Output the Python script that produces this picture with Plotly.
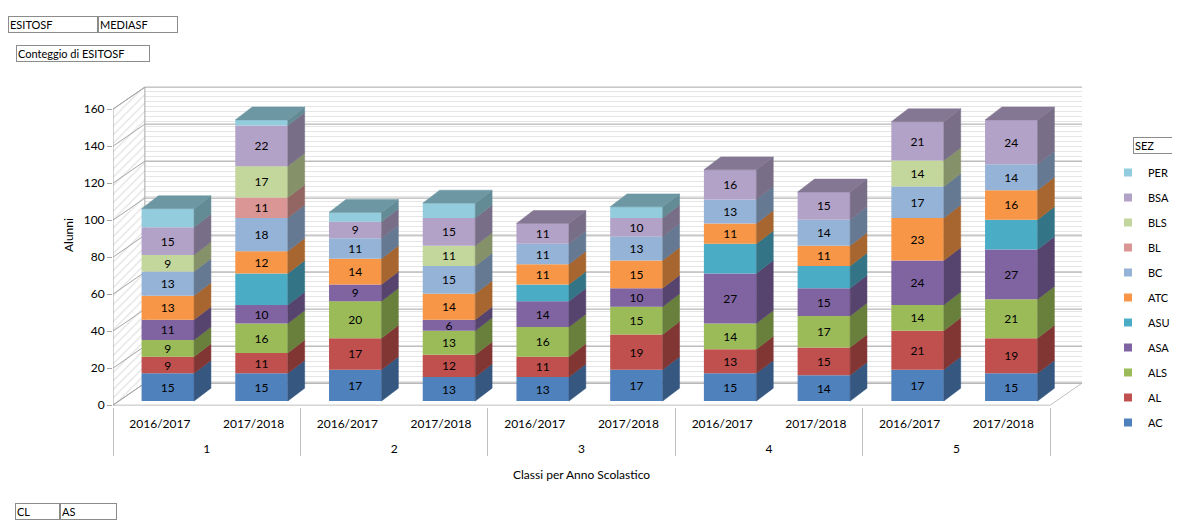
import numpy as np
import plotly.graph_objects as go

# classi (livello esterno) e anni scolastici (livello interno)
classi = ["1", "1", "2", "2", "3", "3", "4", "4", "5", "5"]
anni = ["2016/2017", "2017/2018"] * 5

sezioni = ["AC", "AL", "ALS", "ASA", "ASU", "ATC", "BC", "BL", "BLS", "BSA", "PER"]
AC = [15, 15, 17, 13, 13, 17, 15, 14, 17, 15]
AL = [9, 11, 17, 12, 11, 19, 13, 15, 21, 19]
ALS = [9, 16, 20, 13, 16, 15, 14, 17, 14, 21]
ASA = [11, 10, 9, 6, 14, 10, 27, 15, 24, 27]
ASU = [0, 17, 0, 0, 9, 0, 16, 12, 0, 16]
ATC = [13, 12, 14, 14, 11, 15, 11, 11, 23, 16]
BC = [13, 18, 11, 15, 11, 13, 13, 14, 17, 14]
BL = [0, 11, 0, 0, 0, 0, 0, 0, 0, 0]
BLS = [9, 17, 0, 11, 0, 0, 0, 0, 14, 0]
BSA = [15, 22, 9, 15, 11, 10, 16, 15, 21, 24]
PER = [10, 3, 5, 8, 0, 6, 0, 0, 0, 0]

y_ticks = [0, 20, 40, 60, 80, 100, 120, 140, 160]

valori = [AC, AL, ALS, ASA, ASU, ATC, BC, BL, BLS, BSA, PER]
colori = ['#4F81BD', '#C0504D', '#9BBB59', '#8064A2', '#4BACC6', '#F79646',
          '#95B3D7', '#D99694', '#C3D69B', '#B3A2C7', '#93CDDD']
senza_etichetta = {"ASU", "PER"}

# la pagina ha un margine di 8px: coordinate schermo -> figura
OFF = 8
W, H = 1180 - OFF, 525 - OFF
PX0, PX1, PY0, PY1 = 113, 1083, 84, 407   # area del grafico (schermo)
L, R, T, B = PX0 - OFF, W - (PX1 - OFF), PY0 - OFF, H - (PY1 - OFF)
XR = [-0.5, 9.85]
YR = [-1.0, 173.6]
DX, DY = 0.34, 11.9       # profondita' pareti
CDX, CDY = 0.18, 7.0      # profondita' colonne
BAR_W = 0.56
SHIFT = 0.085
BASE0 = 2.2
FONT = "Lato, 'Open Sans', sans-serif"


def px_x(p):
    return (p - PX0) / (PX1 - PX0)


def px_y(p):
    return (PY1 - p) / (PY1 - PY0)


def scurisci(hexcol, f):
    h = hexcol.lstrip('#')
    r, g, b = (int(h[i:i + 2], 16) for i in (0, 2, 4))
    return 'rgb(%d,%d,%d)' % (r * f, g * f, b * f)


n = len(classi)
xpos = np.arange(n) + SHIFT
fig = go.Figure()

# pareti e pavimento (sottografico di base, disegnato per primo)
x0, x1 = XR[0], n - 0.5
fig.add_trace(go.Scatter(
    x=[x0 + DX, x1 + DX, x1 + DX, x0 + DX, x0 + DX],
    y=[DY, DY, y_ticks[-1] + DY, y_ticks[-1] + DY, DY],
    fill='toself', mode='lines', line=dict(color='rgba(0,0,0,0)', width=0),
    fillcolor='white',
    fillpattern=dict(shape='-', size=5, solidity=0.2, fgcolor='#cccccc', bgcolor='white'),
    showlegend=False, hoverinfo='skip'))
fig.add_trace(go.Scatter(
    x=[x0, x0 + DX, x0 + DX, x0, x0],
    y=[0, DY, y_ticks[-1] + DY, y_ticks[-1], 0],
    fill='toself', mode='lines', line=dict(color='#a6a6a6', width=1),
    fillcolor='white',
    fillpattern=dict(shape='/', size=6, solidity=0.2, fgcolor='#c4c4c4', bgcolor='white'),
    showlegend=False, hoverinfo='skip'))
fig.add_trace(go.Scatter(
    x=[x0, x1, x1 + DX, x0 + DX, x0],
    y=[0, 0, DY, DY, 0],
    fill='toself', mode='lines', line=dict(color='#bfbfbf', width=1),
    fillcolor='white', showlegend=False, hoverinfo='skip'))

gx, gy = [], []
for v in y_ticks:
    gx += [x0, x0 + DX, x1 + DX, None]
    gy += [v, v + DY, v + DY, None]
fig.add_trace(go.Scatter(x=gx, y=gy, mode='lines', line=dict(color='#a6a6a6', width=1),
                         showlegend=False, hoverinfo='skip'))

# asse multicategoria (solo per le etichette)
fig.add_trace(go.Scatter(x=[["<br>" + c for c in classi], anni], y=[0] * n, mode='markers',
                         marker=dict(opacity=0), xaxis='x2',
                         showlegend=False, hoverinfo='skip'))

base = np.full(n, BASE0)
for k, (sez, vals, col) in enumerate(zip(sezioni, valori, colori)):
    vals = np.array(vals, dtype=float)
    testi = ['' if (v == 0 or sez in senza_etichetta) else str(int(v)) for v in vals]
    fig.add_trace(go.Bar(
        x=xpos, y=vals, base=base, width=BAR_W, name=sez, legendgroup=sez,
        showlegend=False,
        marker=dict(color=col, line=dict(width=0)),
        text=testi, textposition='inside', insidetextanchor='middle', textangle=0,
        textfont=dict(color='black', size=12, family=FONT),
        xaxis='x3', hovertemplate=sez + ': %{y}<extra></extra>'))
    # voce di legenda con quadratino piccolo
    fig.add_trace(go.Scatter(
        x=[None], y=[None], mode='markers', name=sez, legendgroup=sez,
        legendrank=100 - k, marker=dict(symbol='square', size=8, color=col),
        xaxis='x3', hoverinfo='skip'))
    sx, sy = [], []
    for i in range(n):
        if vals[i] == 0:
            continue
        xr = xpos[i] + BAR_W / 2
        b, t = base[i], base[i] + vals[i]
        sx += [xr, xr + CDX, xr + CDX, xr, xr, None]
        sy += [b, b + CDY, t + CDY, t, b, None]
    fig.add_trace(go.Scatter(x=sx, y=sy, fill='toself', mode='lines',
                             fillcolor=scurisci(col, 0.68),
                             line=dict(color=scurisci(col, 0.68), width=0.5),
                             xaxis='x3', showlegend=False, hoverinfo='skip'))
    base = base + vals

# facce superiori
mat = np.array(valori)
for i in range(n):
    top = max(k for k in range(len(sezioni)) if mat[k, i] > 0)
    xl, xr = xpos[i] - BAR_W / 2, xpos[i] + BAR_W / 2
    t = base[i]
    c = scurisci(colori[top], 0.74)
    fig.add_trace(go.Scatter(
        x=[xl, xl + CDX, xr + CDX, xr, xl], y=[t, t + CDY, t + CDY, t, t],
        fill='toself', mode='lines', fillcolor=c, line=dict(color=c, width=0.5),
        xaxis='x3', showlegend=False, hoverinfo='skip'))


def bottone(testo, x, y, w):
    return dict(text=testo, xref='paper', yref='paper', x=px_x(x), y=px_y(y),
                xanchor='left', yanchor='top', showarrow=False, align='left',
                bordercolor='#8c8c8c', borderwidth=1, borderpad=1, bgcolor='white',
                width=w, font=dict(size=11, color='black', family=FONT))


annotazioni = [
    bottone("ESITOSF", 8, 16, 86),
    bottone("MEDIASF", 98, 16, 76),
    bottone("Conteggio di ESITOSF", 16, 45, 130),
    bottone("CL", 15, 503, 41),
    bottone("AS", 60, 503, 53),
    bottone("SEZ", 1133, 137, 37),
    dict(text="Classi per Anno Scolastico", xref='x3', yref='paper', x=(n - 1) / 2,
         y=px_y(474), showarrow=False, xanchor='center', yanchor='middle',
         font=dict(size=12, color='black', family=FONT)),
    dict(text="Alunni", xref='paper', yref='paper', x=px_x(68), y=px_y(235),
         xanchor='center', yanchor='middle',
         textangle=-90, showarrow=False, font=dict(size=12, color='black', family=FONT)),
]

fig.update_layout(
    width=W, height=H,
    margin=dict(l=L, r=R, t=T, b=B, autoexpand=False),
    barmode='overlay',
    paper_bgcolor='white', plot_bgcolor='white',
    font=dict(family=FONT, size=12, color='#262626'),
    xaxis=dict(range=XR, visible=False),
    xaxis2=dict(type='multicategory', overlaying='x', range=XR, showgrid=False,
                zeroline=False, showline=False, ticks='', ticklabelstandoff=8,
                showdividers=True, dividercolor='#bfbfbf', dividerwidth=1,
                tickfont=dict(size=12, color='black')),
    xaxis3=dict(overlaying='x', range=XR, visible=False),
    yaxis=dict(range=YR, tickvals=y_ticks, showgrid=False, zeroline=False,
               showline=False, ticks='outside', ticklen=5, tickcolor='#a6a6a6',
               tickfont=dict(size=12, color='black')),
    legend=dict(x=px_x(1108), xanchor='left', y=px_y(158), yanchor='top',
                traceorder='grouped', tracegroupgap=6,
                font=dict(size=11, color='black'), bgcolor='rgba(0,0,0,0)'),
    uniformtext=dict(mode='show', minsize=12),
    annotations=annotazioni,
    shapes=[dict(type='rect', xref='paper', yref='paper', x0=px_x(5), y0=px_y(7),
                 x1=px_x(1190), y1=px_y(535), line=dict(color='#b3b3b3', width=1),
                 layer='below')],
    showlegend=True,
)

fig.write_html("out.html")
